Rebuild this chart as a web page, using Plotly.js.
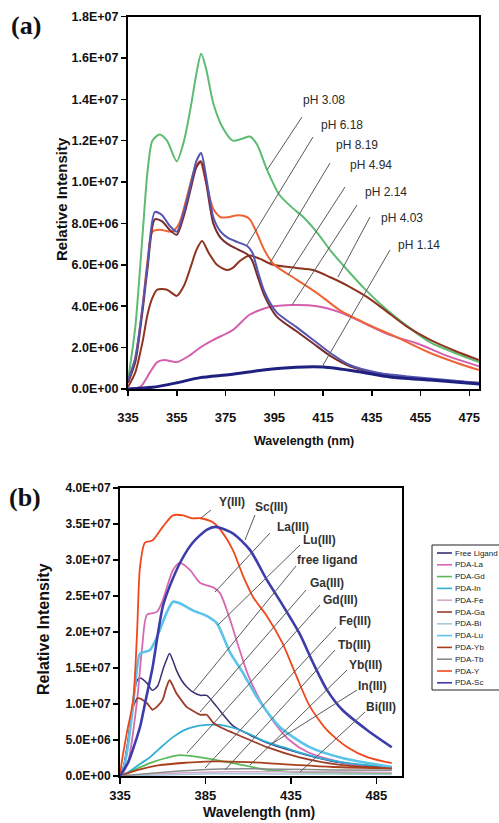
<!DOCTYPE html>
<html><head><meta charset="utf-8">
<script src="https://cdn.plot.ly/plotly-3.0.1.min.js"></script>
<style>html,body{margin:0;padding:0;background:#fff}#chart{width:499px;height:823px}</style>
</head><body><div id="chart"></div>
<script>
// ---------------- DATA: panel (a) ----------------
const a_pH308_wl = [335,338,341,343,345,348,351,355,358,361,363,365,367,370,374,378,382,385,388,392,397,402,407,413,418,425,432,440,450,459,470,479];
const a_pH308_I  = [0.4e6,3.0e6,7.5e6,1.05e7,1.2e7,1.23e7,1.2e7,1.1e7,1.2e7,1.38e7,1.52e7,1.62e7,1.55e7,1.38e7,1.26e7,1.2e7,1.21e7,1.22e7,1.18e7,1.06e7,9.4e6,8.8e6,8.3e6,7.5e6,6.7e6,5.75e6,4.85e6,3.95e6,3.0e6,2.25e6,1.7e6,1.3e6];
const a_pH618_wl = [335,338,341,343,346,349,352,355,358,361,363,365,367,370,373,376,380,384,386,388,391,396,404,411,418,426,438,452,466,479];
const a_pH618_I  = [0.4e6,1.5e6,4.0e6,6.0e6,8.55e6,8.4e6,7.9e6,7.6e6,8.6e6,1.0e7,1.1e7,1.14e7,1.03e7,8.3e6,7.6e6,7.3e6,7.1e6,6.9e6,6.6e6,5.8e6,4.7e6,3.7e6,3.0e6,2.37e6,1.74e6,1.16e6,0.77e6,0.58e6,0.43e6,0.29e6];
const a_pH494_wl = a_pH618_wl;
const a_pH494_I  = [0.3e6,1.3e6,3.8e6,5.8e6,8.2e6,8.1e6,7.7e6,7.45e6,8.4e6,9.8e6,1.07e7,1.1e7,1.0e7,8.0e6,7.3e6,7.0e6,6.75e6,6.5e6,6.2e6,5.5e6,4.5e6,3.5e6,2.8e6,2.2e6,1.6e6,1.1e6,0.75e6,0.55e6,0.4e6,0.3e6];
const a_pH819_wl = [335,338,341,343,345,348,353,356,359,362,364.5,367,370,373,376,380,383,385,388,391,395,404,413,422,432,446,459,470,479];
const a_pH819_I  = [0.4e6,1.5e6,4.0e6,6.2e6,7.6e6,7.7e6,7.6e6,8.0e6,9.2e6,1.05e7,1.1e7,1.0e7,8.7e6,8.3e6,8.3e6,8.4e6,8.35e6,8.2e6,7.5e6,6.7e6,6.0e6,5.3e6,4.6e6,3.8e6,3.2e6,2.46e6,1.74e6,1.26e6,0.92e6];
const a_pH403_wl = [335,338,341,343,345,347,351,355,358,361,363,365.4,368,371.5,375.6,378,381,385,389,394.5,404,411,418,425,433,440,449.6,459,470,479];
const a_pH403_I  = [0.1e6,0.8e6,2.3e6,3.6e6,4.4e6,4.8e6,4.8e6,4.5e6,5.0e6,6.0e6,6.7e6,7.15e6,6.6e6,6.0e6,5.75e6,5.85e6,6.2e6,6.45e6,6.3e6,6.0e6,5.85e6,5.75e6,5.4e6,5.0e6,4.45e6,3.85e6,3.0e6,2.37e6,1.8e6,1.4e6];
const a_pH214_wl = [335,340,344,347,350,355,360,364.6,370,378,385,393,402.7,412.6,422,431.5,442.6,453.7,466,479];
const a_pH214_I  = [0,0.1e6,0.8e6,1.3e6,1.4e6,1.3e6,1.6e6,2.0e6,2.37e6,2.85e6,3.6e6,3.96e6,4.06e6,4.0e6,3.7e6,3.2e6,2.6e6,2.2e6,1.6e6,1.1e6];
const a_pH114_wl = [335,345,355,364.6,377,390.5,404,415,429,442.6,459,479];
const a_pH114_I  = [0,0.08e6,0.3e6,0.55e6,0.7e6,0.92e6,1.05e6,1.06e6,0.85e6,0.58e6,0.43e6,0.24e6];

const pHLabels = ["pH 3.08","pH 6.18","pH 8.19","pH 4.94","pH 2.14","pH 4.03","pH 1.14"];
const a_xTicks = [335,355,375,395,415,435,455,475];
const a_yTicks = [0,2e6,4e6,6e6,8e6,1e7,1.2e7,1.4e7,1.6e7,1.8e7];
const a_yTickText = ["0.0E+00","2.0E+06","4.0E+06","6.0E+06","8.0E+06","1.0E+07","1.2E+07","1.4E+07","1.6E+07","1.8E+07"];

// ---------------- DATA: panel (b) ----------------
const seriesNames = ["Free Ligand","PDA-La","PDA-Gd","PDA-In","PDA-Fe","PDA-Ga","PDA-Bi","PDA-Lu","PDA-Yb","PDA-Tb","PDA-Y","PDA-Sc"];
const b_FL_wl = [335,337,340,343,345,346.7,350.8,354,357,360,362,364,366,368,371,374,378,382,385.7,391.7,401,411,421,440,465,494];
const b_FL_I  = [0,1.25e6,5.5e6,1.1e7,1.33e7,1.36e7,1.29e7,1.19e7,1.25e7,1.47e7,1.6e7,1.7e7,1.6e7,1.47e7,1.33e7,1.24e7,1.16e7,1.12e7,1.12e7,0.96e7,0.7e7,0.57e7,0.46e7,0.32e7,0.18e7,0.125e7];
const b_La_wl = [335,337,340,345,348,350.8,356.6,360,366,370,376,382,389.5,393.5,399,405,410,417,425,434,445,463,480,494];
const b_La_I  = [0,0.5e6,2.2e6,1.05e7,1.8e7,2.24e7,2.28e7,2.44e7,2.86e7,2.96e7,2.86e7,2.68e7,2.62e7,2.54e7,2.2e7,1.75e7,1.4e7,1.05e7,0.75e7,0.5e7,0.33e7,0.2e7,0.13e7,0.1e7];
const b_Gd_wl = [335,342.7,352.5,362,370,382,401,421,440,465,494];
const b_Gd_I  = [0,0.8e6,1.8e6,2.5e6,2.9e6,2.6e6,1.8e6,0.85e6,0.55e6,0.45e6,0.4e6];
const b_In_wl = [335,339,345,352.5,359,366,372,377.6,385.7,393.5,401,411,420,430.5,450,469,494];
const b_In_I  = [0,0.4e6,1.4e6,2.6e6,4.0e6,5.4e6,6.3e6,6.8e6,7.1e6,7.1e6,6.7e6,5.8e6,4.8e6,4.0e6,2.6e6,1.8e6,1.25e6];
const b_Fe_wl = [335,350,370,390,410,440,470,494];
const b_Fe_I  = [0,0.2e6,0.4e6,0.55e6,0.6e6,0.6e6,0.55e6,0.5e6];
const b_Ga_wl = [335,337,340,342.7,345.5,350.8,354,357,360,362,364,366,368,371,374,378,382,385.7,389.5,393.5,401,411,421,440,465,494];
const b_Ga_I  = [0,0.8e6,5e6,9.6e6,1.08e7,1.01e7,0.92e7,0.97e7,1.06e7,1.22e7,1.33e7,1.25e7,1.15e7,1.05e7,0.96e7,0.9e7,0.85e7,0.85e7,0.74e7,0.68e7,0.6e7,0.5e7,0.4e7,0.26e7,0.15e7,0.11e7];
const b_Bi_wl = [335,350,370,390,410,440,470,494];
const b_Bi_I  = [0,0.1e6,0.2e6,0.3e6,0.3e6,0.28e6,0.25e6,0.22e6];
const b_Lu_wl = [335,337,339,342,345,346.7,352.5,356.6,362.5,366,370,377.6,386,391.7,399.3,407,415,428.5,446,465,494];
const b_Lu_I  = [0,1.0e6,3.2e6,8.5e6,1.5e7,1.7e7,1.75e7,1.93e7,2.28e7,2.42e7,2.4e7,2.3e7,2.22e7,2.12e7,1.72e7,1.43e7,1.1e7,0.68e7,0.4e7,0.25e7,0.125e7];
const b_Yb_wl = [335,345,358,374,385,400,421,440,460,494];
const b_Yb_I  = [0,0.8e6,1.5e6,1.85e6,2.0e6,2.0e6,1.8e6,1.5e6,1.25e6,1.05e6];
const b_Tb_wl = [335,350,370,390,410,430,460,494];
const b_Tb_I  = [0,0.3e6,0.7e6,0.95e6,1.0e6,0.95e6,0.85e6,0.8e6];
const b_Y_wl  = [335,336,339,342.7,345,346.7,349.6,354,360,366,372,377,382,389.5,395,401,407,413,421,430,438,446,456,468,480,494];
const b_Y_I   = [0,1.9e6,6e6,1.05e7,2.0e7,2.9e7,3.24e7,3.27e7,3.46e7,3.62e7,3.62e7,3.58e7,3.58e7,3.52e7,3.38e7,3.14e7,2.78e7,2.48e7,2.22e7,1.85e7,1.4e7,0.97e7,0.64e7,0.4e7,0.26e7,0.18e7];
const b_Sc_wl = [335,336,340,343,346.7,350,354,357,360,364,371,377.5,385.7,391,401,411,421,430,440,448,456,465,479.5,494];
const b_Sc_I  = [0,0.4e6,2.0e6,4.0e6,6.8e6,1.05e7,1.5e7,1.95e7,2.35e7,2.63e7,3.0e7,3.24e7,3.42e7,3.46e7,3.37e7,3.14e7,2.72e7,2.38e7,1.98e7,1.57e7,1.2e7,0.92e7,0.64e7,0.4e7];

const ionLabels = ["Y(III)","Sc(III)","La(III)","Lu(III)","free ligand","Ga(III)","Gd(III)","Fe(III)","Tb(III)","Yb(III)","In(III)","Bi(III)"];
const b_xTicks = [335,385,435,485];
const b_yTicks = [0,5e6,1e7,1.5e7,2e7,2.5e7,3e7,3.5e7,4e7];
const b_yTickText = ["0.0E+00","5.0E+06","1.0E+07","1.5E+07","2.0E+07","2.5E+07","3.0E+07","3.5E+07","4.0E+07"];

// ---------------- STYLE / LAYOUT ----------------
const W = 499, H = 823;
const px = v => v / W, py = v => 1 - v / H;
const SANS = "Liberation Sans, Arial, sans-serif";
const SERIF = "Liberation Serif, Times New Roman, serif";

const aSeries = [
  {wl:a_pH308_wl, I:a_pH308_I, color:"#5dbb72", w:2},
  {wl:a_pH403_wl, I:a_pH403_I, color:"#8e3420", w:2},
  {wl:a_pH214_wl, I:a_pH214_I, color:"#d45fae", w:2},
  {wl:a_pH819_wl, I:a_pH819_I, color:"#ef6434", w:2},
  {wl:a_pH494_wl, I:a_pH494_I, color:"#7a2c2c", w:2},
  {wl:a_pH618_wl, I:a_pH618_I, color:"#5456b4", w:2},
  {wl:a_pH114_wl, I:a_pH114_I, color:"#1f2080", w:3}
];
const bStyle = [
  {color:"#3b2c6e", w:1.5}, // Free Ligand
  {color:"#d669b2", w:1.8}, // La
  {color:"#5cb85c", w:1.8}, // Gd
  {color:"#2fb0d4", w:1.8}, // In
  {color:"#d4a6c8", w:1.5}, // Fe
  {color:"#9c3c2a", w:1.8}, // Ga
  {color:"#a8c8d8", w:1.5}, // Bi
  {color:"#5cc4ea", w:2.6}, // Lu
  {color:"#a8401c", w:1.8}, // Yb
  {color:"#8a8a8a", w:1.5}, // Tb
  {color:"#f0481c", w:1.8}, // Y
  {color:"#3c3caa", w:2.6}  // Sc
];
const bData = [
  [b_FL_wl,b_FL_I],[b_La_wl,b_La_I],[b_Gd_wl,b_Gd_I],[b_In_wl,b_In_I],[b_Fe_wl,b_Fe_I],[b_Ga_wl,b_Ga_I],
  [b_Bi_wl,b_Bi_I],[b_Lu_wl,b_Lu_I],[b_Yb_wl,b_Yb_I],[b_Tb_wl,b_Tb_I],[b_Y_wl,b_Y_I],[b_Sc_wl,b_Sc_I]
];

const traces = [];
aSeries.forEach(s => traces.push({x:s.wl, y:s.I, xaxis:"x", yaxis:"y", mode:"lines", showlegend:false,
  line:{color:s.color, width:s.w, shape:"spline", smoothing:0.7}, hoverinfo:"skip"}));
bData.forEach((d,i) => traces.push({x:d[0], y:d[1], xaxis:"x2", yaxis:"y2", mode:"lines", showlegend:false, name:seriesNames[i],
  line:{color:bStyle[i].color, width:bStyle[i].w, shape:"spline", smoothing:0.7}, hoverinfo:"skip"}));

// callout geometry (pixel positions in the picture): label centre, line start, line end
const aCallouts = [
  {t:[324,100], s:[302,117], e:[267,170]},
  {t:[342,125], s:[313,137], e:[247,245]},
  {t:[357,145], s:[330,163], e:[270,263]},
  {t:[371,165], s:[345,187], e:[288,275]},
  {t:[386,192], s:[357,205], e:[292,305]},
  {t:[402,218], s:[370,217], e:[338,277]},
  {t:[419,245], s:[390,250], e:[322,367]}
];
const bCallouts = [
  {t:[232,502], s:[211,510], e:[201,518]},
  {t:[271,507], s:[255,515], e:[245,540]},
  {t:[293,527], s:[270,533], e:[215,592]},
  {t:[319,540], s:[300,545], e:[218,625]},
  {t:[327,560], s:[296,566], e:[193,692]},
  {t:[327,583], s:[306,590], e:[200,712]},
  {t:[340,600], s:[320,605], e:[187,753]},
  {t:[355,621], s:[336,627], e:[205,768]},
  {t:[354,645], s:[335,650], e:[225,770]},
  {t:[365,665], s:[347,670], e:[250,765]},
  {t:[372,686], s:[357,690], e:[270,745]},
  {t:[381,707], s:[365,712], e:[300,772]}
];

const shapes = [], annotations = [];
function note(x, y, text, font, extra){
  annotations.push(Object.assign({xref:"paper", yref:"paper", x:px(x), y:py(y), text:text, showarrow:false,
    xanchor:"center", yanchor:"middle", font:font}, extra || {}));
}
function callouts(list, labels, font){
  list.forEach((c,i) => {
    shapes.push({type:"line", xref:"paper", yref:"paper", x0:px(c.s[0]), y0:py(c.s[1]), x1:px(c.e[0]), y1:py(c.e[1]),
      line:{color:"#5a5a5a", width:1}});
    note(c.t[0], c.t[1], labels[i], font);
  });
}
callouts(aCallouts, pHLabels, {family:SANS, size:12, color:"#2a2a2a"});
callouts(bCallouts, ionLabels, {family:SANS, size:12, color:"#333", weight:"bold"});

// custom compact legend for panel (b)
const legTop = 545, legLeft = 432, legStep = 11.8;
shapes.push({type:"rect", xref:"paper", yref:"paper", x0:px(legLeft), x1:px(520), y0:py(690), y1:py(legTop),
  line:{color:"#222", width:1}, fillcolor:"rgba(0,0,0,0)"});
seriesNames.forEach((n,i) => {
  const yy = legTop + 8 + legStep*i;
  shapes.push({type:"line", xref:"paper", yref:"paper", x0:px(437), x1:px(452), y0:py(yy), y1:py(yy),
    line:{color:bStyle[i].color, width:1.6}});
  note(452.5, yy, n, {family:SANS, size:8, color:"#222"}, {xanchor:"left"});
});

// panel letters and axis titles
note(26, 25, "(a)", {family:SERIF, size:26, color:"#111", weight:"bold"});
note(25, 497, "(b)", {family:SERIF, size:26, color:"#111", weight:"bold"});
note(304, 441, "Wavelength (nm)", {family:SANS, size:12.5, color:"#111", weight:"bold"});
note(61, 199, "Relative Intensity", {family:SANS, size:15, color:"#111", weight:"bold"}, {textangle:-90});
note(259, 812, "Wavelength (nm)", {family:SANS, size:14, color:"#111", weight:"bold"});
note(43, 629, "Relative Intensity", {family:SANS, size:16, color:"#111", weight:"bold"}, {textangle:-90});

const axisCommon = {showline:true, mirror:true, linecolor:"#000", linewidth:2, ticks:"outside", ticklen:5,
  tickwidth:1.5, tickcolor:"#000", showgrid:false, zeroline:false, fixedrange:true};

const layout = {
  width:W, height:H, margin:{l:0,r:0,t:0,b:0}, paper_bgcolor:"#fff", plot_bgcolor:"#fff", showlegend:false,
  xaxis: Object.assign({}, axisCommon, {domain:[px(128), px(479)], range:[335,479], anchor:"y",
    tickvals:a_xTicks, ticktext:a_xTicks.map(String), ticklabelstandoff:10,
    tickfont:{family:SANS, size:13, color:"#111", weight:"bold"}}),
  yaxis: Object.assign({}, axisCommon, {domain:[py(389), py(16.5)], range:[0,1.8e7], anchor:"x",
    tickvals:a_yTicks, ticktext:a_yTickText,
    tickfont:{family:SANS, size:12.5, color:"#111", weight:"bold"}}),
  xaxis2: Object.assign({}, axisCommon, {domain:[px(120), px(402)], range:[335,500], anchor:"y2",
    tickvals:b_xTicks, ticktext:b_xTicks.map(String), ticklen:6, ticklabelstandoff:0,
    tickfont:{family:SANS, size:13, color:"#111", weight:"bold"}}),
  yaxis2: Object.assign({}, axisCommon, {domain:[py(776), py(488)], range:[0,4e7], anchor:"x2",
    tickvals:b_yTicks, ticktext:b_yTickText,
    tickfont:{family:SANS, size:12, color:"#111", weight:"bold"}}),
  shapes: shapes, annotations: annotations
};

Plotly.newPlot("chart", traces, layout, {displayModeBar:false, staticPlot:true});
</script></body></html>
